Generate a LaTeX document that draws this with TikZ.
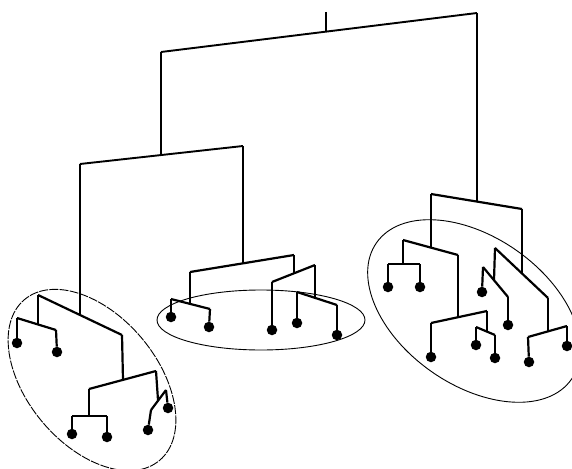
\documentclass[tikz,border=0pt]{standalone}
\begin{document}
\begin{tikzpicture}[x=1pt,y=-1pt,
  branch/.style={line width=2.2pt,line join=miter,line cap=butt},
  topbranch/.style={line width=1.9pt,line join=miter,line cap=butt},
  rootstem/.style={line width=1.1pt},
  cluster/.style={line width=0.9pt},
  leaf/.style={circle,fill=black,inner sep=0pt,minimum size=10.5pt}]
\useasboundingbox (0,0) rectangle (572,468);
% cluster outlines
\draw[cluster,dash pattern=on 9pt off 1.2pt,shift={(92,380)},rotate=-50] (0,0) ellipse [x radius=105pt,y radius=65pt];
\draw[cluster,shift={(261,320)}] (0,0) ellipse [x radius=104pt,y radius=30pt];
\draw[cluster,shift={(474,311)},rotate=-35] (0,0) ellipse [x radius=119pt,y radius=74pt];
% junction coordinates
\coordinate (r0) at (326,12);  \coordinate (r1) at (326,31.6);
\coordinate (tL) at (161,52);  \coordinate (tR) at (477,13);
\coordinate (aT) at (161,155); \coordinate (aL) at (80,164);  \coordinate (aR) at (243,146);
\coordinate (bJ) at (80,315);  \coordinate (bL) at (38,295);  \coordinate (bR) at (122,335);
\coordinate (cJ) at (38,324);  \coordinate (cL) at (17,318);  \coordinate (cR) at (56,330);
\coordinate (dJ) at (123,380); \coordinate (dL) at (89,389);  \coordinate (dR) at (156,371);
\coordinate (eJ) at (89,416);  \coordinate (eL) at (72,416);  \coordinate (eR) at (107,416);
\coordinate (fJ) at (158,400); \coordinate (fL) at (151,410); \coordinate (fR) at (166,390);
\coordinate (gJ) at (243,263.3); \coordinate (gL) at (190,272); \coordinate (gR) at (294,255);
\coordinate (hJ) at (190,303.8); \coordinate (hL) at (171,299); \coordinate (hR) at (210,309);
\coordinate (iJ) at (294,273.3); \coordinate (iL) at (272,282); \coordinate (iR) at (315,265);
\coordinate (jJ) at (315,297.7); \coordinate (jL) at (297,292); \coordinate (jR) at (337,305);
\coordinate (kJ) at (477,201.6); \coordinate (kL) at (431,194); \coordinate (kR) at (522,209);
\coordinate (mJ) at (431,247.6); \coordinate (mL) at (403,240); \coordinate (mR) at (458,255);
\coordinate (nJ) at (403,264); \coordinate (nL) at (388,264); \coordinate (nR) at (420,264);
\coordinate (oJ) at (458,317.2); \coordinate (oL) at (431,323); \coordinate (oR) at (487,311);
\coordinate (pJ) at (487,331.6); \coordinate (pL) at (476,327); \coordinate (pR) at (495,335);
\coordinate (qJ) at (522,273.5); \coordinate (qL) at (495,248); \coordinate (qR) at (548,298);
\coordinate (sJ) at (494,280.2); \coordinate (sL) at (483,267); \coordinate (sR) at (508,297);
\coordinate (uJ) at (548,331.4); \coordinate (uL) at (528,337); \coordinate (uR) at (567,326);
% leaves
\node[leaf] (l1) at (17,343) {};   \node[leaf] (l2) at (57,352) {};
\node[leaf] (l3) at (72,434) {};   \node[leaf] (l4) at (107,437) {};
\node[leaf] (l5) at (148,430) {};  \node[leaf] (l6) at (168,408) {};
\node[leaf] (l7) at (171,317) {};  \node[leaf] (l8) at (209,327) {};
\node[leaf] (l9) at (272,330) {};  \node[leaf] (l10) at (297,323) {};
\node[leaf] (l11) at (337,335) {};
\node[leaf] (l12) at (388,287) {}; \node[leaf] (l13) at (420,287) {};
\node[leaf] (l14) at (431,357) {}; \node[leaf] (l15) at (476,345) {};
\node[leaf] (l16) at (495,358) {}; \node[leaf] (l17) at (482,292) {};
\node[leaf] (l18) at (508,325) {}; \node[leaf] (l19) at (529,362) {};
\node[leaf] (l20) at (567,346) {};
% tree
\draw[rootstem] (r0) -- (r1);
\draw[topbranch] (tL) -- (tR);
\draw[topbranch] (tL) -- (aT);
\draw[topbranch] (aL) -- (aR);
\draw[topbranch] (tR) -- (kJ);
% left cluster
\draw[branch] (aL) -- (bJ);
\draw[branch] (bL) -- (bR);
\draw[branch] (bL) -- (cJ);
\draw[branch] (cL) -- (cR);
\draw[branch] (cL) -- (l1);
\draw[branch] (cR) -- (l2);
\draw[branch] (bR) -- (dJ);
\draw[branch] (dL) -- (dR);
\draw[branch] (dL) -- (eJ);
\draw[branch] (eL) -- (eR);
\draw[branch] (eL) -- (l3);
\draw[branch] (eR) -- (l4);
\draw[branch] (dR) -- (fJ);
\draw[branch] (fL) -- (fR);
\draw[branch] (fL) -- (l5);
\draw[branch] (fR) -- (l6);
% middle cluster
\draw[branch] (aR) -- (gJ);
\draw[branch] (gL) -- (gR);
\draw[branch] (gL) -- (hJ);
\draw[branch] (hL) -- (hR);
\draw[branch] (hL) -- (l7);
\draw[branch] (hR) -- (l8);
\draw[branch] (gR) -- (iJ);
\draw[branch] (iL) -- (iR);
\draw[branch] (iL) -- (l9);
\draw[branch] (iR) -- (jJ);
\draw[branch] (jL) -- (jR);
\draw[branch] (jL) -- (l10);
\draw[branch] (jR) -- (l11);
% right cluster
\draw[branch] (kL) -- (kR);
\draw[branch] (kL) -- (mJ);
\draw[branch] (mL) -- (mR);
\draw[branch] (mL) -- (nJ);
\draw[branch] (nL) -- (nR);
\draw[branch] (nL) -- (l12);
\draw[branch] (nR) -- (l13);
\draw[branch] (mR) -- (oJ);
\draw[branch] (oL) -- (oR);
\draw[branch] (oL) -- (l14);
\draw[branch] (oR) -- (pJ);
\draw[branch] (pL) -- (pR);
\draw[branch] (pL) -- (l15);
\draw[branch] (pR) -- (l16);
\draw[branch] (kR) -- (qJ);
\draw[branch] (qL) -- (qR);
\draw[branch] (qL) -- (sJ);
\draw[branch] (sL) -- (sR);
\draw[branch] (sL) -- (l17);
\draw[branch] (sR) -- (l18);
\draw[branch] (qR) -- (uJ);
\draw[branch] (uL) -- (uR);
\draw[branch] (uL) -- (l19);
\draw[branch] (uR) -- (l20);
\end{tikzpicture}
\end{document}
